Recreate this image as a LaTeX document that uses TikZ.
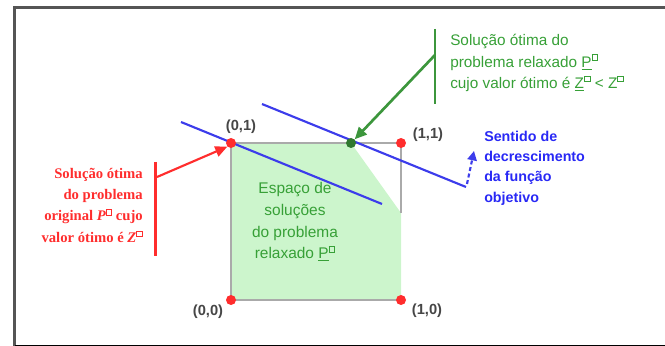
\documentclass[tikz,border=0pt]{standalone}
\usepackage{fontspec}
\setmainfont{Liberation Sans}
\newfontfamily\redserif{Liberation Serif}
\usetikzlibrary{arrows.meta}
\definecolor{frameg}{RGB}{85,85,85}
\definecolor{sqgrey}{RGB}{170,170,170}
\definecolor{fillg}{RGB}{204,245,204}
\definecolor{txtg}{RGB}{55,160,55}
\definecolor{arrg}{RGB}{60,150,60}
\definecolor{lineb}{RGB}{60,60,235}
\definecolor{txtb}{RGB}{40,40,245}
\definecolor{redc}{RGB}{255,45,45}
\definecolor{lbl}{RGB}{70,70,70}
\newcommand{\supbox}{\raisebox{0.85ex}{\fboxsep=0pt\fboxrule=0.6pt\fbox{\rule{0pt}{0.32em}\hspace{0.32em}}}}
\tikzset{
  vdot/.style={circle,fill=redc,inner sep=0pt,minimum size=7.5pt},
  gdot/.style={circle,fill=arrg!80!black,inner sep=0pt,minimum size=7.5pt},
  vlabel/.style={font=\fontsize{11}{13}\selectfont\bfseries,text=lbl,inner sep=0pt},
  gtext/.style={text=txtg,inner sep=0pt,font=\fontsize{11.5}{15.8}\selectfont},
  btext/.style={text=txtb,inner sep=0pt,align=left,font=\fontsize{10.7}{15.2}\selectfont\bfseries},
  rtext/.style={text=redc,inner sep=0pt,align=right,font=\redserif\fontsize{11}{16}\selectfont\bfseries},
  objline/.style={draw=lineb,line width=1.6pt},
  bar/.style={line width=2.2pt}
}
\begin{document}
\begin{tikzpicture}[x=0.75pt,y=-0.75pt]
\useasboundingbox (0,0) rectangle (665,346);
% frame
\draw[frameg,line width=2.4pt] (14.5,346) -- (14.5,7.5) -- (665,7.5);
\draw[black,line width=1.2pt] (15,345.3) -- (665,345.3);
% corners
\coordinate (c00) at (231,300);
\coordinate (c10) at (401,300);
\coordinate (c01) at (231,143);
\coordinate (c11) at (401,143);
\coordinate (opt) at (351,143);
\coordinate (cut) at (401,213);
% feasible region
\fill[fillg] (c01) -- (opt) -- (cut) -- (c10) -- (c00) -- cycle;
\draw[sqgrey,line width=1.8pt] (cut) -- (c11) -- (c01) -- (c00) -- (c10);
% objective lines
\coordinate (l1a) at (181,122);
\coordinate (l1b) at (382,204);
\coordinate (l2a) at (262,104);
\coordinate (l2b) at (466,187);
\draw[objline] (l1a) -- (l1b);
\draw[objline] (l2a) -- (l2b);
% dots
\node[vdot] (d00) at (c00) {};
\node[vdot] (d10) at (c10) {};
\node[vdot] (d01) at (c01) {};
\node[vdot] (d11) at (c11) {};
\node[gdot] (dopt) at (opt) {};
% vertex labels
\node[vlabel] (t01) at (241,127) {(0,1)};
\node[vlabel] (t11) at (428,135) {(1,1)};
\node[vlabel] (t00) at (208,312) {(0,0)};
\node[vlabel] (t10) at (427,311) {(1,0)};
% inside text
\node[gtext,align=center,font=\fontsize{11.6}{16.2}\selectfont] (inside) at (295,222)
  {Espaço de\\soluções\\do problema\\relaxado \underline{P}\supbox};
% green callout
\coordinate (gbt) at (435,29);
\coordinate (gbb) at (435,104);
\draw[arrg,bar] (gbt) -- (gbb);
\coordinate (gstart) at (435,55);
\draw[arrg,line width=2pt,-{Triangle[length=9pt,width=8pt]}] (gstart) -- (dopt.north east);
\node[gtext,anchor=west,align=left] (gtxt) at (450,63)
  {Solução ótima do\\problema relaxado \underline{P}\supbox\\cujo valor ótimo é \underline{Z}\supbox\ < Z\supbox};
% red callout
\coordinate (rbt) at (155.5,162);
\coordinate (rbb) at (155.5,256);
\draw[redc,bar] (rbt) -- (rbb);
\coordinate (rstart) at (157,177);
\draw[redc,line width=1.6pt,-{Triangle[length=9pt,width=8pt]}] (rstart) -- (d01.south west);
\node[rtext,anchor=east] (rtxt) at (143,205)
  {Solução ótima\\do problema\\original \textit{P}\supbox\ cujo\\valor ótimo é \textit{Z}\supbox};
% blue direction
\coordinate (bstart) at (467,184);
\coordinate (bend) at (474,151);
\draw[lineb,line width=1.6pt,dashed,dash pattern=on 3pt off 2pt,-{Triangle[length=7pt,width=7pt]}] (bstart) -- (bend);
\node[btext,anchor=west] (btxt) at (484,168)
  {Sentido de\\decrescimento\\da função\\objetivo};
\end{tikzpicture}
\end{document}
